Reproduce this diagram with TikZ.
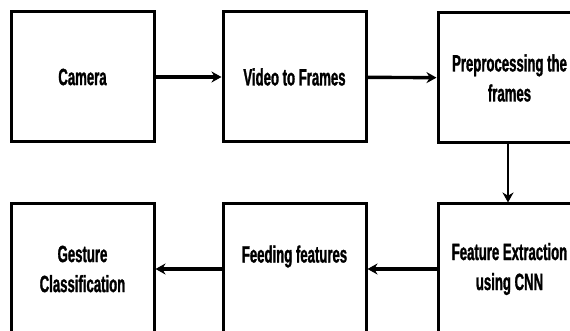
\documentclass[tikz,border=0pt]{standalone}
\usepackage{fontspec}
\setmainfont[FakeStretch=0.56,BoldFeatures={FakeBold=1.2}]{Liberation Sans}
\usetikzlibrary{arrows.meta,positioning}

\tikzset{
  etapa/.style={draw, line width=3pt, minimum width=143pt, minimum height=130pt,
    align=center, inner sep=0pt, font=\bfseries\fontsize{23.5}{30}\selectfont},
  flecha/.style={line width=3.4pt, -{Stealth[length=10pt,width=11pt]}}
}

\begin{document}
\begin{tikzpicture}[x=1pt,y=-1pt]

% Marco de la figura
\clip (0,0) rectangle (570,331);
\fill[white] (0,0) rectangle (570,331);

% Fila superior
\node[etapa] (camara) at (82.5,77) {Camera};
\node[etapa] (video) at (294.5,77) {Video to Frames};
\node[etapa] (prepro) at (509.5,78) {Preprocessing the\\frames};

% Fila inferior
\node[etapa] (extrac) at (509.5,269) {Feature Extraction\\using CNN};
\node[etapa] (alimen) at (294.5,269) {Feeding features\\\phantom{x}};
\node[etapa] (clasif) at (82.5,269) {Gesture\\Classification};

% Flechas
\draw[flecha] (camara) -- (video);
\draw[flecha] (video) -- (prepro);
\draw[flecha, line width=2.4pt] (prepro.south) ++(-1.5,0) coordinate (p1) -- (p1 |- extrac.north);
\draw[flecha] (extrac) -- (alimen);
\draw[flecha] (alimen) -- (clasif);

\end{tikzpicture}
\end{document}
